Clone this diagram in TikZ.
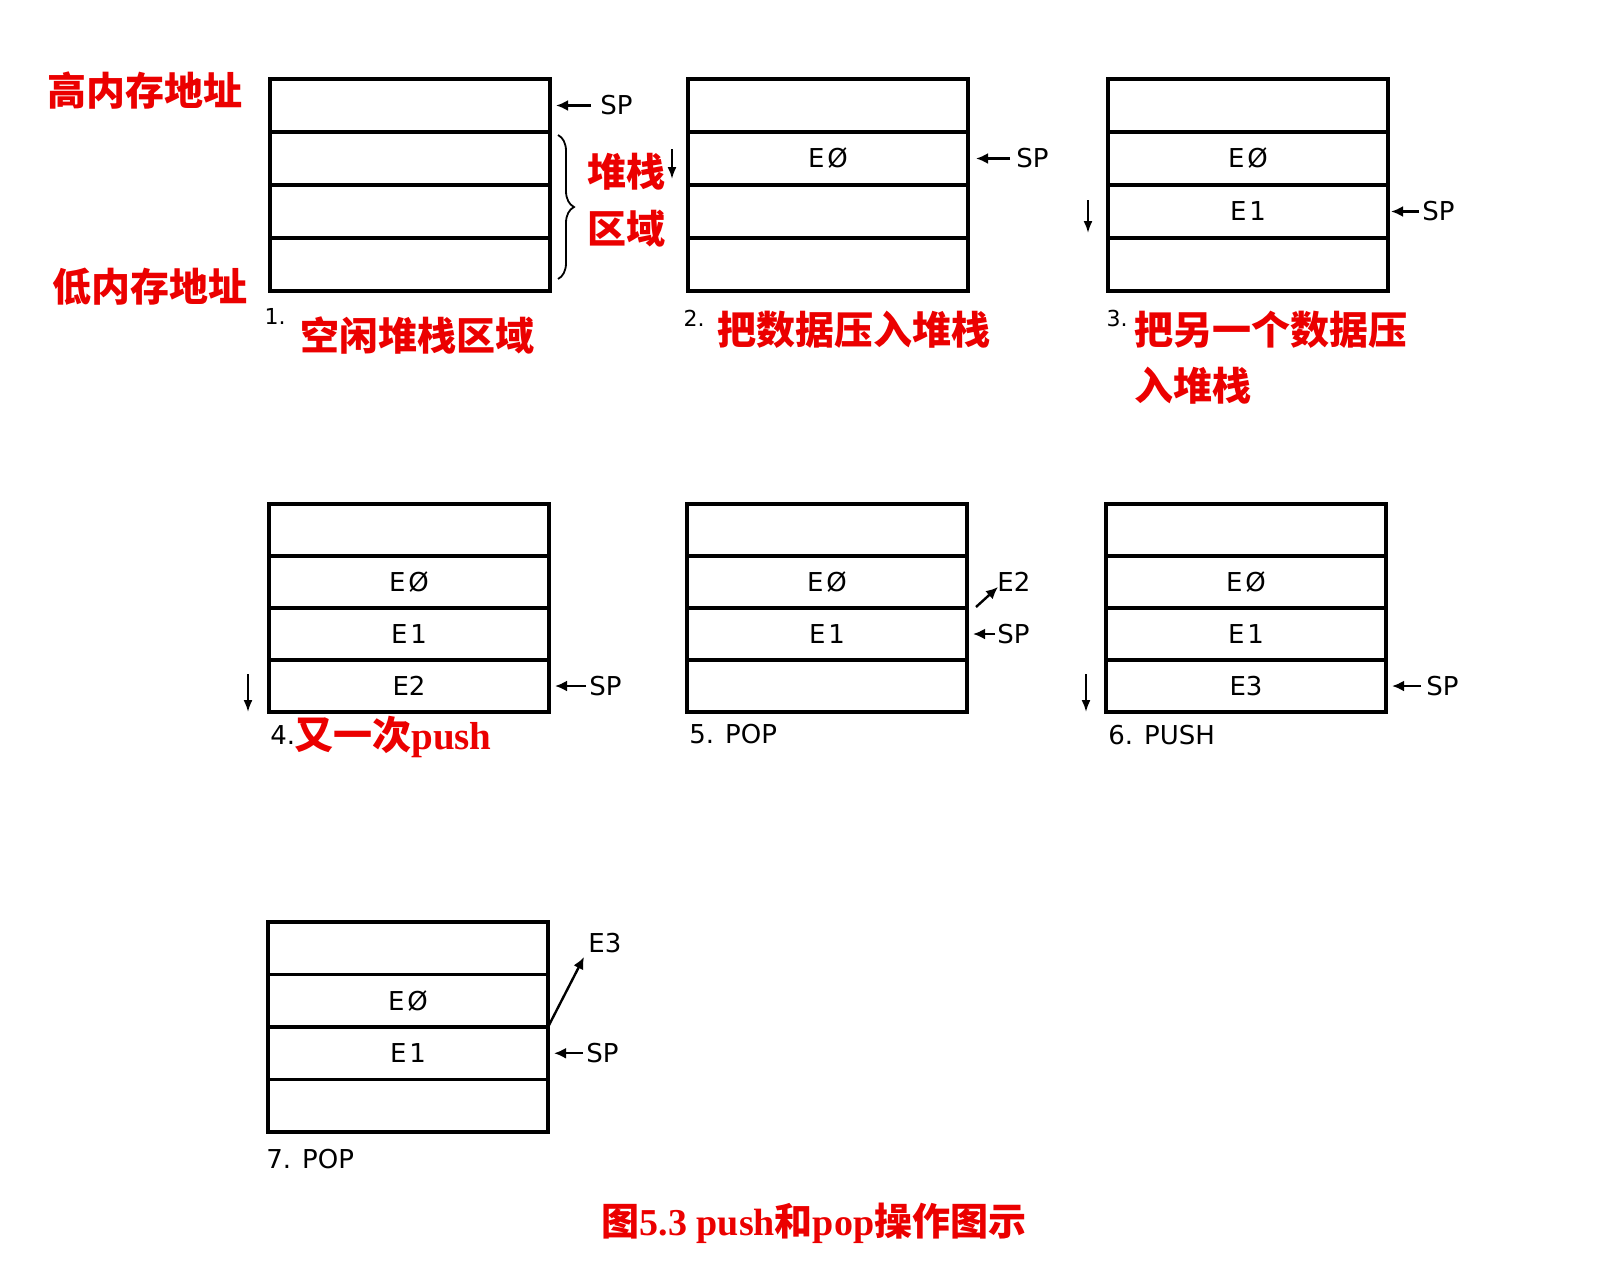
\documentclass[tikz,border=0pt]{standalone}
\usepackage{fontspec}
\setmainfont{DejaVu Sans}
\newfontfamily\cjk{Noto Sans CJK SC}
\newfontfamily\lser{Liberation Serif}
\usetikzlibrary{arrows.meta,decorations.pathreplacing,calc}
\definecolor{labred}{RGB}{235,0,0}
\newcommand\stkfont{\fontsize{13}{13}\selectfont}
\newcommand\numfont{\fontsize{11}{11}\selectfont}
\newcommand\redfont{\cjk\bfseries\fontsize{19.5}{22}\selectfont}
\newcommand\mkstack[8]{%
 \node[cell,minimum height=#8,anchor=north west] (#1a) at (#2,#3) {#4};
 \node[cell,minimum height=#8,anchor=north] (#1b) at (#1a.south) {#5};
 \node[cell,minimum height=#8,anchor=north] (#1c) at (#1b.south) {#6};
 \node[cell,minimum height=#8,anchor=north] (#1d) at (#1c.south) {#7};}
\newcommand\Ez{E\hspace{1.5pt}Ø}
\newcommand\Ei{E\hspace{1.5pt}1}
\newcommand\Eii{E2}
\newcommand\Eiii{E3}
\begin{document}
\begin{tikzpicture}[x=0.5pt,y=-0.5pt,
  cell/.style={draw,line width=1.8pt,minimum width=140pt,inner sep=0pt,outer sep=0pt,font=\stkfont},
  lbl/.style={inner sep=1pt,font=\stkfont},
  num/.style={inner sep=0pt,font=\numfont},
  redlbl/.style={inner sep=0pt,text=labred,font=\redfont},
  spar/.style={line width=1.2pt,-{Latex[length=6pt,width=5.5pt]}},
  dnar/.style={line width=1pt,-{Latex[length=6pt,width=4.5pt]}}]
\useasboundingbox (0,0) rectangle (1616,1270);

% stacks
\mkstack{s1}{270}{79}{}{}{}{}{26.5pt}
\mkstack{s2}{688}{79}{}{\Ez}{}{}{26.5pt}
\mkstack{s3}{1108}{79}{}{\Ez}{\Ei}{}{26.5pt}
\mkstack{s4}{269}{504}{}{\Ez}{\Ei}{\Eii}{26pt}
\mkstack{s5}{687}{504}{}{\Ez}{\Ei}{}{26pt}
\mkstack{s6}{1106}{504}{}{\Ez}{\Ei}{\Eiii}{26pt}
\mkstack{s7}{268}{922}{}{\Ez}{\Ei}{}{26.25pt}

% SP pointers
\node[lbl,anchor=west] (sp1) at ([xshift=24pt]s1a.east) {SP};
\draw[spar,shorten >=3pt,shorten <=3.5pt] (sp1.west) -- (s1a.east);
\node[lbl,anchor=west] (sp2) at ([xshift=23pt]s2b.east) {SP};
\draw[spar,shorten >=4pt,shorten <=2pt] (sp2.west) -- (s2b.east);
\node[lbl,anchor=west] (sp3) at ([xshift=16pt]s3c.east) {SP};
\draw[spar,shorten >=1.5pt,shorten <=0.5pt] (sp3.west) -- (s3c.east);
\node[lbl,anchor=west] (sp4) at ([xshift=19pt]s4d.east) {SP};
\draw[spar,shorten >=3pt,shorten <=0.5pt] (sp4.west) -- (s4d.east);
\node[lbl,anchor=west] (sp5) at ([xshift=14pt]s5c.east) {SP};
\draw[spar,shorten >=3pt,shorten <=0pt] (sp5.west) -- (s5c.east);
\node[lbl,anchor=west] (sp6) at ([xshift=19pt]s6d.east) {SP};
\draw[spar,shorten >=3pt,shorten <=1.5pt] (sp6.west) -- (s6d.east);
\node[lbl,anchor=west] (sp7) at ([xshift=18pt]s7c.east) {SP};
\draw[spar,shorten >=3pt,shorten <=0.5pt] (sp7.west) -- (s7c.east);

% popped values
\node[lbl,anchor=west] (e2) at (995,582) {E2};
\coordinate (e2s) at ($(s5b.south east)+(9,-1)$);
\coordinate (e2t) at ($(s5b.south east)+(31,-21)$);
\draw[spar] (e2s) -- (e2t);
\node[lbl,anchor=west] (e3) at (586,943) {E3};
\coordinate (e3t) at ($(s7b.south east)+(36,-70)$);
\draw[spar] (s7b.south east) -- (e3t);

% growth direction arrows
\coordinate (d2s) at (672,149); \coordinate (d2e) at (672,179);
\draw[dnar] (d2s) -- (d2e);
\coordinate (d3s) at (1088,200); \coordinate (d3e) at (1088,233);
\draw[dnar] (d3s) -- (d3e);
\coordinate (d4s) at (248,674); \coordinate (d4e) at (248,712);
\draw[dnar] (d4s) -- (d4e);
\coordinate (d6s) at (1086,674); \coordinate (d6e) at (1086,712);
\draw[dnar] (d6s) -- (d6e);

% brace
\coordinate (b1) at ($(s1b.north east)+(8,3)$);
\coordinate (b2) at ($(s1d.south east)+(8,-12)$);
\draw[decorate,decoration={brace,amplitude=8pt},line width=0.9pt] (b1) -- (b2);

% red labels
\node[redlbl] (hi) at (145,91) {高内存地址};
\node[redlbl] (lo) at (150,287) {低内存地址};
\node[redlbl] (area1) at (626,172) {堆栈};
\node[redlbl] (area2) at (626,229) {区域};

\node[num] (n1) at (275,316) {1.};
\node[redlbl] (t1) at (417,335) {空闲堆栈区域};
\node[num] (n2) at (694,318) {2.};
\node[redlbl] (t2) at (854,330) {把数据压入堆栈};
\node[num] (n3) at (1117,318) {3.};
\node[redlbl,anchor=west] (t3) at (1134,330) {把另一个数据压};
\node[redlbl,anchor=west] (t3b) at (1134,386) {入堆栈};
\node[lbl,anchor=west] (n4) at (268,735) {4.};
\node[redlbl,anchor=west] (t4) at (294,737) {又一次{\lser\bfseries push}};
\node[lbl,anchor=west] (t5) at (687,734) {5. POP};
\node[lbl,anchor=west] (t6) at (1106,735) {6. PUSH};
\node[lbl,anchor=west] (t7) at (264,1159) {7. POP};

\node[redlbl,font=\cjk\bfseries\fontsize{19}{22}\selectfont] (cap) at (814,1223) {图{\lser\bfseries 5.3 push}和{\lser\bfseries pop}操作图示};
\end{tikzpicture}
\end{document}
